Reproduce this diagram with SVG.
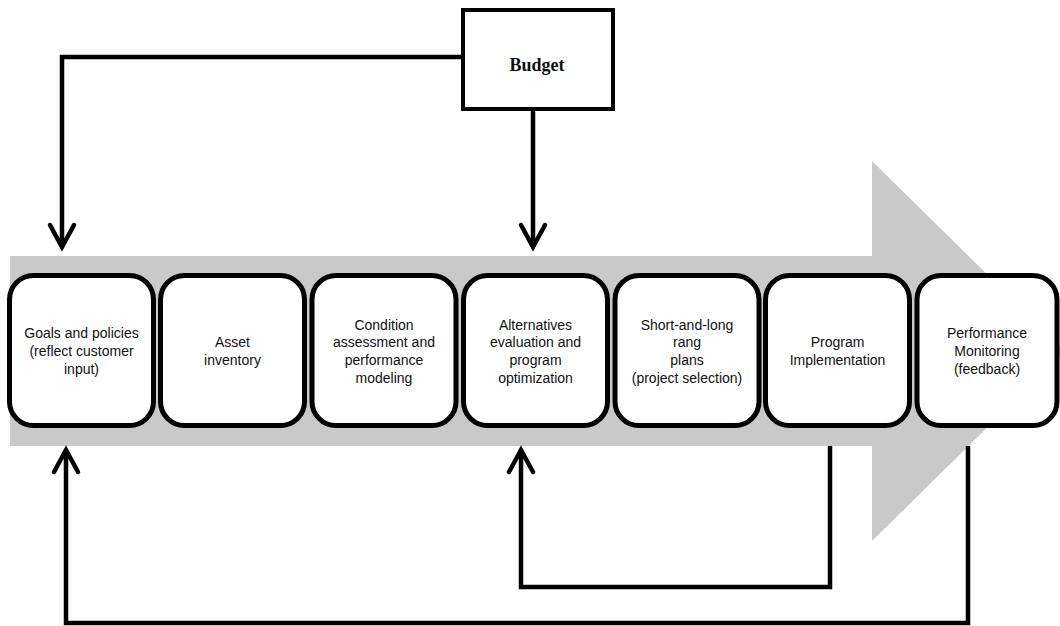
<svg xmlns="http://www.w3.org/2000/svg" width="1060" height="626" viewBox="0 0 1060 626">
  <style>
    .step rect { fill: #ffffff; stroke: #000000; stroke-width: 5; }
    .step text { font-family: "Liberation Sans", Arial, sans-serif; font-size: 14px; fill: #111111; text-anchor: middle; }
    .budget rect { fill: #ffffff; stroke: #000000; stroke-width: 4; }
    .budget text { font-family: "Liberation Serif", "Times New Roman", serif; font-weight: bold; font-size: 18px; fill: #111111; text-anchor: middle; }
    .link { fill: none; stroke: #000000; stroke-width: 4.5; stroke-linejoin: miter; marker-end: url(#chevron); }
    .plain { fill: none; stroke: #000000; stroke-width: 4.5; }
  </style>
  <defs>
    <marker id="chevron" markerUnits="userSpaceOnUse" viewBox="-30 -16 36 32" refX="0" refY="0" markerWidth="36" markerHeight="32" orient="auto" overflow="visible">
      <path d="M -22 -12 L 0 0 L -22 12" fill="none" stroke="#000000" stroke-width="4.5" stroke-linecap="round" stroke-linejoin="miter"/>
    </marker>
  </defs>

  <rect width="1060" height="626" fill="#ffffff"/>

  <!-- process flow band -->
  <polygon id="flow-band" points="10,256 872,256 872,161 1065,351 872,541 872,446 10,446" fill="#c9c9c9"/>

  <!-- connectors -->
  <g id="connectors">
    <path class="link" d="M 463 57 L 62 57 L 62 247"/>
    <path class="link" d="M 533 111 L 533 247"/>
    <path class="link" d="M 830 446 L 830 587 L 521 587 L 521 450"/>
    <path class="link" d="M 968 446 L 968 623 L 66 623 L 66 450"/>
  </g>

  <!-- budget -->
  <g id="budget" class="budget">
    <rect x="463" y="10" width="150" height="99"/>
    <text x="537" y="71">Budget</text>
  </g>

  <!-- steps -->
  <g id="goals" class="step">
    <rect x="9.5" y="275.5" width="144" height="150" rx="24"/>
    <text x="81.5" y="338.3">Goals and policies</text>
    <text x="81.5" y="356">(reflect customer</text>
    <text x="81.5" y="373.7">input)</text>
  </g>
  <g id="inventory" class="step">
    <rect x="160.5" y="275.5" width="144" height="150" rx="24"/>
    <text x="232.5" y="347.2">Asset</text>
    <text x="232.5" y="364.9">inventory</text>
  </g>
  <g id="condition" class="step">
    <rect x="312" y="275.5" width="144" height="150" rx="24"/>
    <text x="384" y="329.5">Condition</text>
    <text x="384" y="347.2">assessment and</text>
    <text x="384" y="364.9">performance</text>
    <text x="384" y="382.6">modeling</text>
  </g>
  <g id="alternatives" class="step">
    <rect x="463.5" y="275.5" width="144" height="150" rx="24"/>
    <text x="535.5" y="329.5">Alternatives</text>
    <text x="535.5" y="347.2">evaluation and</text>
    <text x="535.5" y="364.9">program</text>
    <text x="535.5" y="382.6">optimization</text>
  </g>
  <g id="plans" class="step">
    <rect x="615" y="275.5" width="144" height="150" rx="24"/>
    <text x="687" y="329.5">Short-and-long</text>
    <text x="687" y="347.2">rang</text>
    <text x="687" y="364.9">plans</text>
    <text x="687" y="382.6">(project selection)</text>
  </g>
  <g id="implementation" class="step">
    <rect x="765.5" y="275.5" width="144" height="150" rx="24"/>
    <text x="837.5" y="347.2">Program</text>
    <text x="837.5" y="364.9">Implementation</text>
  </g>
  <g id="monitoring" class="step">
    <rect x="917" y="275.5" width="140" height="150" rx="24"/>
    <text x="987" y="338.3">Performance</text>
    <text x="987" y="356">Monitoring</text>
    <text x="987" y="373.7">(feedback)</text>
  </g>
</svg>
